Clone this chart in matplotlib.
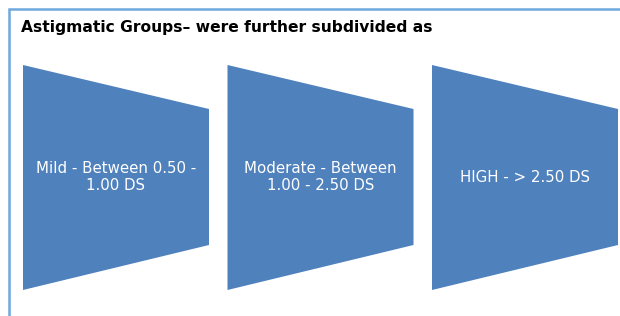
import matplotlib
matplotlib.use('Agg')
from matplotlib import pyplot as plt
from matplotlib.patches import Polygon

title = 'Astigmatic Groups\u2013 were further subdivided as'
labels = ['Mild - Between 0.50 -\n1.00 DS',
          'Moderate - Between\n1.00 - 2.50 DS',
          'HIGH - > 2.50 DS']

fill = '#4f81bd'
frame = '#6fa8dc'

fig = plt.figure(figsize=(6.2, 3.16), dpi=100)
ax = fig.add_axes([0, 0, 1, 1])
ax.set_xlim(0, 620)
ax.set_ylim(316, 0)
ax.axis('off')

# frame lines on the top and the left
ax.plot([9, 9, 620], [316, 9, 9], color=frame, lw=1.8,
        solid_capstyle='butt', solid_joinstyle='miter')

ax.text(21, 27.5, title, fontsize=11.2, fontweight='bold', color='black',
        va='center', ha='left', family='DejaVu Sans')

# trapezoids: tall on the left, shorter on the right
x0, step, w = 23, 204.5, 186
for i, lab in enumerate(labels):
    left = x0 + i * step
    right = left + w
    pts = [(left, 65), (right, 109), (right, 245), (left, 290)]
    ax.add_patch(Polygon(pts, closed=True, facecolor=fill, edgecolor='none'))
    ax.text((left + right) / 2, 177, lab, color='white', fontsize=10.8,
            ha='center', va='center', linespacing=1.15, family='DejaVu Sans')

fig.savefig('out.png', dpi=100, facecolor='white')
